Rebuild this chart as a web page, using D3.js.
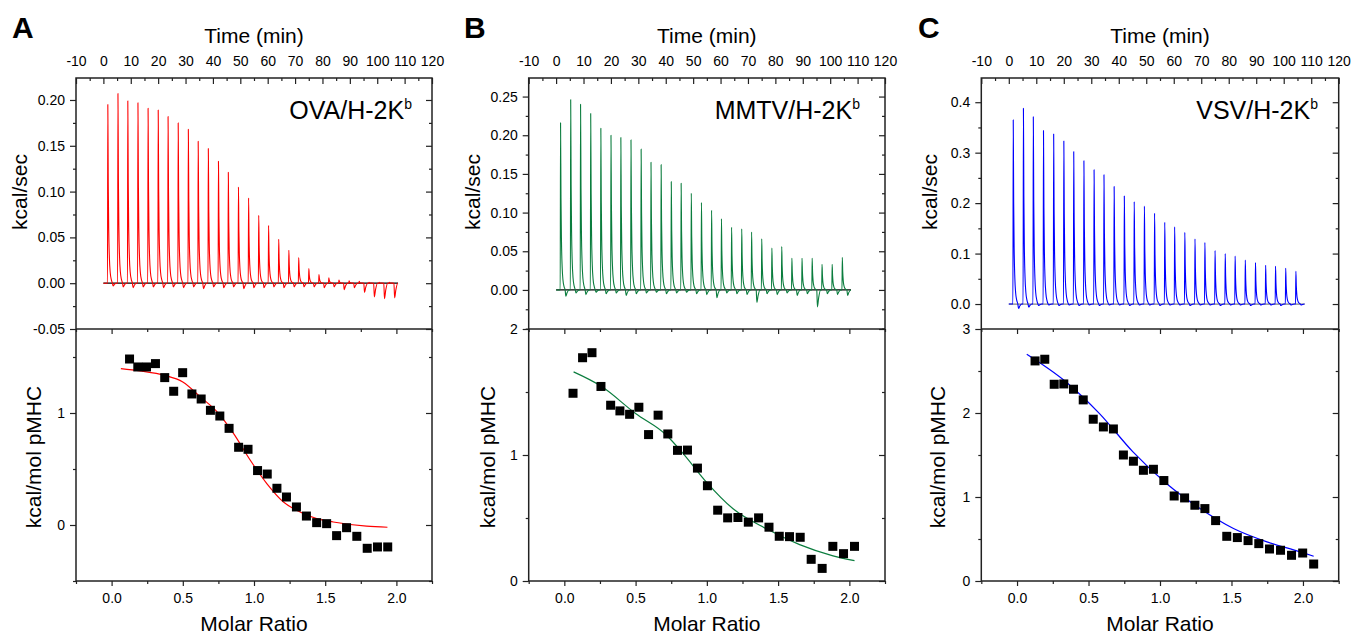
<!DOCTYPE html>
<html><head><meta charset="utf-8">
<script src="https://cdn.jsdelivr.net/npm/d3@7"></script>
<style>
body{margin:0;background:#fff}
text{font-family:"Liberation Sans",Arial,Helvetica,sans-serif;fill:#000}
</style>
</head><body>
<svg id="chart" width="1353" height="637"></svg>
<script>
// ---------------- DATA ----------------
const timeTicks = [-10,0,10,20,30,40,50,60,70,80,90,100,110,120];
const ratioTicks = [0.0,0.5,1.0,1.5,2.0];
const injTimes = [1.5,5.2,8.8,12.5,16.2,19.9,23.5,27.2,30.9,34.5,38.2,41.9,45.5,49.2,52.9,56.6,60.2,63.9,67.6,71.2,74.9,78.6,82.2,85.9,89.6,93.3,96.9,100.6,104.3];
const traceEnd = 107.6;

const peaksA = [0.195,0.207,0.199,0.197,0.191,0.189,0.182,0.175,0.168,0.155,0.147,0.133,0.121,0.105,0.093,0.074,0.063,0.048,0.036,0.028,0.016,0.0095,0.006,0.0035,0.0025,0.002,0.001,0.001,0.001];
const dipsA  = [-0.003,-0.004,-0.005,-0.004,-0.004,-0.005,-0.004,-0.005,-0.004,-0.006,-0.004,-0.005,-0.004,-0.006,-0.005,-0.005,-0.004,-0.005,-0.004,-0.004,-0.004,-0.005,-0.004,-0.007,-0.005,-0.010,-0.015,-0.017,-0.016];
const peaksB = [0.216,0.246,0.240,0.228,0.209,0.200,0.197,0.194,0.182,0.165,0.162,0.140,0.138,0.125,0.113,0.103,0.092,0.081,0.079,0.075,0.066,0.054,0.056,0.041,0.041,0.041,0.033,0.033,0.042];
const dipsB  = [-0.008,-0.004,-0.006,-0.003,-0.005,-0.004,-0.007,-0.005,-0.004,-0.003,-0.005,-0.004,-0.003,-0.005,-0.006,-0.010,-0.004,-0.005,-0.006,-0.016,-0.005,-0.006,-0.004,-0.007,-0.005,-0.022,-0.005,-0.006,-0.007];
const peaksC = [0.365,0.388,0.371,0.344,0.337,0.323,0.302,0.284,0.266,0.256,0.233,0.214,0.203,0.194,0.180,0.162,0.153,0.142,0.129,0.122,0.106,0.100,0.095,0.087,0.082,0.077,0.075,0.071,0.065];
const dipsC  = [-0.009,-0.006,-0.003,-0.002,-0.003,-0.002,-0.003,-0.002,-0.003,-0.002,-0.002,-0.003,-0.002,-0.002,-0.003,-0.002,-0.002,-0.003,-0.002,-0.002,-0.003,-0.002,-0.002,-0.003,-0.002,-0.002,-0.003,-0.002,-0.002];

const ratioA = [0.126,0.184,0.245,0.308,0.373,0.436,0.499,0.564,0.629,0.694,0.760,0.825,0.892,0.958,1.025,1.093,1.161,1.228,1.298,1.368,1.440,1.510,1.580,1.650,1.722,1.795,1.867,1.939];
const heatA  = [1.482,1.411,1.411,1.441,1.316,1.194,1.360,1.170,1.125,1.024,0.973,0.863,0.694,0.676,0.486,0.455,0.328,0.250,0.161,0.080,0.021,0.012,-0.095,-0.024,-0.101,-0.208,-0.196,-0.196];
const fitAx = [0.065,0.2,0.37,0.5,0.624,0.741,0.857,0.974,1.09,1.207,1.324,1.44,1.557,1.79,1.937];
const fitAy = [1.396,1.375,1.337,1.277,1.143,1.01,0.816,0.578,0.37,0.205,0.116,0.057,0.027,-0.01,-0.02];

const ratioB = [0.061,0.128,0.194,0.257,0.325,0.390,0.458,0.523,0.591,0.658,0.726,0.794,0.864,0.934,1.004,1.076,1.146,1.218,1.291,1.363,1.436,1.508,1.580,1.655,1.732,1.809,1.884,1.959,2.036];
const heatB  = [1.490,1.772,1.812,1.544,1.395,1.350,1.323,1.379,1.162,1.316,1.167,1.037,1.039,0.896,0.756,0.562,0.501,0.504,0.467,0.501,0.427,0.355,0.352,0.347,0.172,0.100,0.275,0.217,0.275];
const fitBx = [0.065,0.257,0.5,0.717,0.834,0.997,1.184,1.418,1.651,1.885,2.036];
const fitBy = [1.66,1.547,1.329,1.157,1.011,0.785,0.573,0.414,0.289,0.2,0.162];

const ratioC = [0.126,0.194,0.260,0.327,0.395,0.463,0.533,0.604,0.674,0.744,0.814,0.884,0.954,1.027,1.099,1.172,1.244,1.314,1.389,1.467,1.541,1.616,1.691,1.766,1.843,1.920,1.998,2.075];
const heatC  = [2.620,2.640,2.342,2.346,2.283,2.156,1.926,1.834,1.810,1.500,1.426,1.318,1.330,1.196,1.012,0.989,0.902,0.862,0.719,0.532,0.517,0.481,0.445,0.381,0.366,0.306,0.333,0.202];
const fitCx = [0.068,0.343,0.577,0.811,1.045,1.28,1.514,1.748,1.982,2.075];
const fitCy = [2.70,2.37,1.993,1.537,1.16,0.862,0.624,0.465,0.346,0.294];

const titles = ["OVA/H-2K","MMTV/H-2K","VSV/H-2K"];
const letters = ["A","B","C"];

// ---------------- LAYOUT ----------------
const svg = d3.select("#chart");
const yTop0 = 78, yMid = 329, yBot = 581;
const hy = f => d => f(d).replace("\u2212","-");

const panels = [
  {x0:76, x1:432, color:"#ff0000", base:"#000", peaks:peaksA, dips:dipsA,
   topDom:[-0.05,0.224], topMajor:[-0.05,0,0.05,0.10,0.15,0.20], topFmt:hy(d3.format(".2f")), topMinorStep:0.025,
   botDom:[-0.5,1.75], botMajor:[0,1], botMinor:[-0.5,0.5,1.5],
   rx:ratioA, hy:heatA, fx:fitAx, fy:fitAy, title:titles[0], letter:letters[0], letterX:12,
   ylabTopX:27, ylabBotX:41, titleRight:412},
  {x0:528.7, x1:885, color:"#0b7d3e", base:"#000", peaks:peaksB, dips:dipsB,
   topDom:[-0.0505,0.274], topMajor:[0,0.05,0.10,0.15,0.20,0.25], topFmt:hy(d3.format(".2f")), topMinorStep:0.025,
   botDom:[0,2], botMajor:[0,1,2], botMinor:[0.5,1.5],
   rx:ratioB, hy:heatB, fx:fitBx, fy:fitBy, title:titles[1], letter:letters[1], letterX:464,
   ylabTopX:480, ylabBotX:495, titleRight:860},
  {x0:981.3, x1:1338.7, color:"#0000ff", base:"#808080", peaks:peaksC, dips:dipsC,
   topDom:[-0.0495,0.448], topMajor:[0,0.1,0.2,0.3,0.4], topFmt:hy(d3.format(".1f")), topMinorStep:0.05,
   botDom:[0,3], botMajor:[0,1,2,3], botMinor:[0.5,1.5,2.5],
   rx:ratioC, hy:heatC, fx:fitCx, fy:fitCy, title:titles[2], letter:letters[2], letterX:918,
   ylabTopX:937, ylabBotX:945, titleRight:1318}
];

const spikeShape = [[0,0],[0.12,1],[0.28,0.55],[0.45,0.3],[0.7,0.14],[1.0,0.06],[1.4,0.02],[1.8,0]];
const dipShape = [[2.05,1],[2.5,0.45],[3.2,0]];

function styleAxis(g){
  g.select(".domain").remove();
  g.selectAll("line").attr("stroke","#222").attr("stroke-width",1.2);
  g.selectAll("text").attr("font-size",14).attr("fill","#000");
}

panels.forEach((p,pi)=>{
  const g = svg.append("g");
  const xT = d3.scaleLinear().domain([-10,120]).range([p.x0,p.x1]);
  const yT = d3.scaleLinear().domain(p.topDom).range([yMid,yTop0]);
  const xR = d3.scaleLinear().domain([-0.25,2.25]).range([p.x0,p.x1]);
  const yB = d3.scaleLinear().domain(p.botDom).range([yBot,yMid]);

  const cid = "clip"+pi;
  svg.append("clipPath").attr("id",cid).append("rect")
    .attr("x",p.x0).attr("y",yTop0).attr("width",p.x1-p.x0).attr("height",yMid-yTop0);

  // --- top plot: trace ---
  const pts = [[0,0]];
  injTimes.forEach((t,i)=>{
    spikeShape.forEach(s=>pts.push([t+s[0], p.peaks[i]*s[1]]));
    dipShape.forEach(s=>pts.push([t+s[0], p.dips[i]*s[1]]));
  });
  pts.push([traceEnd,0]);

  g.append("line").attr("x1",xT(0)).attr("x2",xT(traceEnd)).attr("y1",yT(0)).attr("y2",yT(0))
    .attr("stroke",p.base).attr("stroke-width",1.3);
  g.append("path").datum(pts).attr("clip-path",`url(#${cid})`)
    .attr("fill","none").attr("stroke",p.color).attr("stroke-width",1.1).attr("stroke-linejoin","round")
    .attr("d", d3.line().x(d=>xT(d[0])).y(d=>yT(d[1])).curve(d3.curveMonotoneX));

  // time axis (top, inward ticks)
  const minorTime = d3.range(-10,121,5).filter(v=>v%10!==0);
  g.append("g").attr("transform",`translate(0,${yTop0})`)
    .call(d3.axisTop(xT).tickValues(timeTicks).tickSize(-6).tickPadding(12).tickFormat(hy(d3.format("d")))).call(styleAxis);
  g.append("g").attr("transform",`translate(0,${yTop0})`)
    .call(d3.axisTop(xT).tickValues(minorTime).tickSize(-3).tickFormat("")).call(styleAxis);

  // top y axes
  const tMinor = d3.range(Math.ceil(p.topDom[0]/p.topMinorStep)*p.topMinorStep, p.topDom[1]+1e-9, p.topMinorStep)
      .filter(v=>!p.topMajor.some(m=>Math.abs(m-v)<1e-6));
  g.append("g").attr("transform",`translate(${p.x0},0)`)
    .call(d3.axisLeft(yT).tickValues(p.topMajor).tickSize(6).tickPadding(5).tickFormat(p.topFmt)).call(styleAxis);
  g.append("g").attr("transform",`translate(${p.x0},0)`)
    .call(d3.axisLeft(yT).tickValues(tMinor).tickSize(3).tickFormat("")).call(styleAxis);
  g.append("g").attr("transform",`translate(${p.x1},0)`)
    .call(d3.axisRight(yT).tickValues(p.topMajor).tickSize(-6).tickFormat("")).call(styleAxis);
  g.append("g").attr("transform",`translate(${p.x1},0)`)
    .call(d3.axisRight(yT).tickValues(tMinor).tickSize(-3).tickFormat("")).call(styleAxis);

  // --- bottom plot ---
  const rMinor = [-0.25,0.25,0.75,1.25,1.75,2.25];
  g.append("g").attr("transform",`translate(0,${yBot})`)
    .call(d3.axisBottom(xR).tickValues(ratioTicks).tickSize(5).tickPadding(7).tickFormat(d3.format(".1f"))).call(styleAxis);
  g.append("g").attr("transform",`translate(0,${yBot})`)
    .call(d3.axisBottom(xR).tickValues(rMinor).tickSize(3).tickFormat("")).call(styleAxis);
  g.append("g").attr("transform",`translate(0,${yMid})`)
    .call(d3.axisTop(xR).tickValues(ratioTicks).tickSize(-5).tickFormat("")).call(styleAxis);
  g.append("g").attr("transform",`translate(0,${yMid})`)
    .call(d3.axisTop(xR).tickValues(rMinor).tickSize(-3).tickFormat("")).call(styleAxis);
  g.append("g").attr("transform",`translate(${p.x0},0)`)
    .call(d3.axisLeft(yB).tickValues(p.botMajor).tickSize(6).tickPadding(5).tickFormat(d3.format("d"))).call(styleAxis);
  g.append("g").attr("transform",`translate(${p.x0},0)`)
    .call(d3.axisLeft(yB).tickValues(p.botMinor).tickSize(3).tickFormat("")).call(styleAxis);
  g.append("g").attr("transform",`translate(${p.x1},0)`)
    .call(d3.axisRight(yB).tickValues(p.botMajor).tickSize(-6).tickFormat("")).call(styleAxis);
  g.append("g").attr("transform",`translate(${p.x1},0)`)
    .call(d3.axisRight(yB).tickValues(p.botMinor).tickSize(-3).tickFormat("")).call(styleAxis);

  // fit line
  const fit = p.fx.map((x,i)=>[x,p.fy[i]]);
  g.append("path").datum(fit).attr("fill","none").attr("stroke",p.color).attr("stroke-width",1.2)
    .attr("d", d3.line().x(d=>xR(d[0])).y(d=>yB(d[1])).curve(d3.curveMonotoneX));

  // squares
  const sz = 9;
  g.selectAll(".sq").data(p.rx.map((x,i)=>[x,p.hy[i]])).enter().append("rect")
    .attr("x",d=>xR(d[0])-sz/2).attr("y",d=>yB(d[1])-sz/2).attr("width",sz).attr("height",sz).attr("fill","#000");

  // frames
  g.append("rect").attr("x",p.x0).attr("y",yTop0).attr("width",p.x1-p.x0).attr("height",yBot-yTop0)
    .attr("fill","none").attr("stroke","#222").attr("stroke-width",1.5);
  g.append("line").attr("x1",p.x0).attr("x2",p.x1).attr("y1",yMid).attr("y2",yMid)
    .attr("stroke","#222").attr("stroke-width",1.5);

  // texts
  const cx = (p.x0+p.x1)/2;
  g.append("text").attr("x",cx).attr("y",43).attr("text-anchor","middle").attr("font-size",21).text("Time (min)");
  g.append("text").attr("x",cx).attr("y",631).attr("text-anchor","middle").attr("font-size",21).text("Molar Ratio");
  g.append("text").attr("transform",`translate(${p.ylabTopX},192) rotate(-90)`).attr("text-anchor","middle")
    .attr("font-size",21).text("kcal/sec");
  g.append("text").attr("transform",`translate(${p.ylabBotX},457) rotate(-90)`).attr("text-anchor","middle")
    .attr("font-size",21).text("kcal/mol pMHC");
  const tt = g.append("text").attr("x",p.titleRight).attr("y",119).attr("text-anchor","end").attr("font-size",25);
  tt.append("tspan").text(p.title);
  tt.append("tspan").attr("font-size",14).attr("dy",-10).text("b");
  g.append("text").attr("x",p.letterX).attr("y",38).attr("font-size",30).attr("font-weight","bold").text(p.letter);
});
</script>
</body></html>
